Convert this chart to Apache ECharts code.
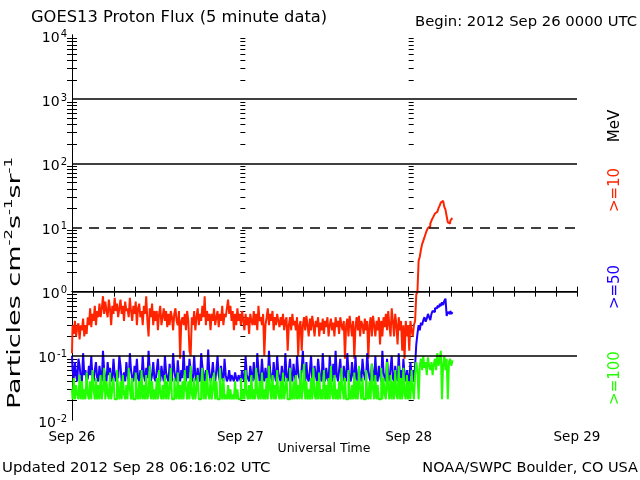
<!DOCTYPE html>
<html><head><meta charset="utf-8">
<script src="https://cdn.jsdelivr.net/npm/echarts@6/dist/echarts.min.js"></script>
<style>html,body{margin:0;padding:0;background:#fff}#c{width:640px;height:480px}</style>
</head><body><div id="c"></div>
<script>
// 10-minute samples starting 2012 Sep 26 0000 UTC (x in hours); each row = 2 hours
const stepHours = 1 / 6;
const dayLabels = ['Sep 26', 'Sep 27', 'Sep 28', 'Sep 29'];
const decadeExponents = [-2, -1, 0, 1, 2, 3, 4];

// >=10 MeV
const p10 = [
  0.11,0.3,0.22,0.35,0.2,0.28,0.32,0.18,0.3,0.25,0.38,0.2,
  0.3,0.22,0.4,0.3,0.55,0.28,0.45,0.35,0.6,0.3,0.5,0.4,
  0.65,0.4,0.55,0.85,0.45,0.7,0.5,0.4,0.75,0.55,0.3,0.6,
  0.45,0.8,0.5,0.65,0.4,0.55,0.75,0.45,0.6,0.35,0.7,0.5,
  0.55,0.4,0.8,0.5,0.35,0.6,0.45,0.7,0.3,0.55,0.65,0.4,
  0.5,0.3,0.6,0.45,0.85,0.35,0.2,0.55,0.4,0.65,0.3,0.5,
  0.35,0.5,0.25,0.45,0.6,0.3,0.4,0.55,0.35,0.5,0.28,0.45,
  0.3,0.5,0.4,0.25,0.45,0.55,0.35,0.3,0.5,0.09,0.35,0.4,
  0.3,0.45,0.25,0.5,0.35,0.12,0.1,0.4,0.3,0.5,0.25,0.4,
  0.55,0.3,0.45,0.35,0.6,0.4,0.85,0.3,0.5,0.35,0.45,0.25,
  0.45,0.35,0.55,0.3,0.4,0.5,0.28,0.45,0.35,0.6,0.3,0.45,
  0.4,0.55,0.75,0.45,0.6,0.35,0.5,0.25,0.45,0.3,0.55,0.35,
  0.45,0.3,0.5,0.35,0.25,0.45,0.3,0.4,0.22,0.45,0.35,0.3,
  0.5,0.3,0.45,0.25,0.6,0.35,0.4,0.3,0.45,0.1,0.3,0.4,
  0.55,0.3,0.45,0.35,0.5,0.25,0.4,0.3,0.45,0.35,0.28,0.4,
  0.3,0.45,0.25,0.35,0.4,0.12,0.3,0.4,0.25,0.45,0.3,0.35,
  0.25,0.4,0.1,0.3,0.35,0.12,0.3,0.4,0.25,0.42,0.3,0.2,
  0.38,0.25,0.42,0.3,0.2,0.35,0.28,0.4,0.2,0.33,0.25,0.38,
  0.22,0.35,0.28,0.4,0.2,0.3,0.38,0.25,0.33,0.2,0.4,0.28,
  0.35,0.22,0.4,0.3,0.25,0.35,0.09,0.3,0.38,0.2,0.42,0.3,
  0.2,0.35,0.09,0.28,0.4,0.25,0.42,0.2,0.35,0.3,0.22,0.38,
  0.25,0.35,0.09,0.3,0.4,0.2,0.42,0.3,0.2,0.35,0.25,0.4,
  0.15,0.35,0.2,0.4,0.28,0.45,0.25,0.5,0.3,0.2,0.55,0.35,
  0.2,0.45,0.3,0.15,0.4,0.25,0.35,0.12,0.3,0.09,0.35,0.2,
  0.3,0.12,0.35,0.25,0.2,0.3,0.35,0.9,1.0,3.0,3.5,4.5,
  5.5,6.2,7.0,8.0,9.0,9.8,10.5,11.5,12.8,14,15.2,16.5,
  17.5,18.5,20,22,24.5,26,25,21,19,15,12,11.5,
  12.5,13.5,14
];
// >=50 MeV
const p50 = [
  0.1,0.06,0.045,0.08,0.05,0.04,0.09,0.07,0.045,0.04,0.11,0.05,
  0.06,0.04,0.045,0.07,0.05,0.1,0.045,0.04,0.06,0.08,0.045,0.04,
  0.07,0.05,0.04,0.12,0.06,0.045,0.04,0.08,0.05,0.065,0.04,0.045,
  0.09,0.05,0.04,0.06,0.045,0.1,0.07,0.04,0.045,0.055,0.04,0.08,
  0.05,0.04,0.11,0.06,0.045,0.04,0.07,0.05,0.09,0.045,0.04,0.06,
  0.045,0.1,0.05,0.04,0.065,0.045,0.12,0.06,0.04,0.05,0.08,0.045,
  0.04,0.06,0.09,0.045,0.04,0.07,0.05,0.04,0.1,0.055,0.045,0.04,
  0.075,0.05,0.04,0.11,0.06,0.045,0.04,0.085,0.05,0.04,0.06,0.045,
  0.12,0.05,0.04,0.07,0.045,0.09,0.06,0.04,0.045,0.1,0.05,0.04,
  0.065,0.045,0.04,0.11,0.07,0.05,0.04,0.06,0.045,0.125,0.055,0.04,
  0.05,0.08,0.045,0.04,0.06,0.1,0.05,0.04,0.07,0.045,0.04,0.09,
  0.05,0.04,0.045,0.06,0.04,0.05,0.045,0.04,0.055,0.045,0.04,0.05,
  0.045,0.04,0.06,0.045,0.04,0.1,0.05,0.045,0.04,0.07,0.05,0.04,
  0.08,0.045,0.04,0.11,0.06,0.04,0.045,0.09,0.05,0.04,0.065,0.045,
  0.04,0.12,0.06,0.045,0.04,0.08,0.05,0.04,0.1,0.055,0.045,0.04,
  0.07,0.045,0.04,0.11,0.05,0.04,0.06,0.09,0.045,0.04,0.075,0.05,
  0.04,0.1,0.055,0.045,0.04,0.065,0.12,0.05,0.04,0.08,0.045,0.04,
  0.06,0.1,0.045,0.04,0.07,0.05,0.04,0.09,0.06,0.045,0.04,0.11,
  0.05,0.04,0.065,0.045,0.04,0.1,0.055,0.04,0.075,0.045,0.12,0.05,
  0.04,0.06,0.09,0.045,0.04,0.07,0.05,0.04,0.11,0.06,0.045,0.04,
  0.08,0.05,0.04,0.1,0.045,0.04,0.065,0.05,0.04,0.09,0.055,0.045,
  0.04,0.11,0.06,0.045,0.04,0.075,0.05,0.04,0.1,0.045,0.04,0.07,
  0.05,0.04,0.12,0.055,0.045,0.04,0.09,0.05,0.04,0.065,0.1,0.045,
  0.04,0.07,0.05,0.04,0.11,0.045,0.06,0.04,0.09,0.05,0.04,0.06,
  0.045,0.04,0.08,0.05,0.06,0.04,0.07,0.15,0.22,0.3,0.25,0.33,
  0.3,0.36,0.4,0.34,0.38,0.45,0.4,0.36,0.45,0.5,0.48,0.55,
  0.55,0.6,0.58,0.65,0.6,0.68,0.62,0.72,0.78,0.42,0.48,0.45,
  0.5,0.45,0.48
];
// >=100 MeV
const p100 = [
  0.03,0.021,0.045,0.021,0.035,0.025,0.021,0.05,0.021,0.04,0.021,0.03,
  0.021,0.055,0.025,0.021,0.04,0.021,0.06,0.03,0.021,0.045,0.021,0.035,
  0.021,0.05,0.021,0.03,0.065,0.021,0.04,0.025,0.021,0.055,0.021,0.03,
  0.045,0.021,0.021,0.06,0.03,0.021,0.04,0.021,0.05,0.025,0.021,0.035,
  0.021,0.065,0.03,0.021,0.045,0.021,0.021,0.055,0.025,0.021,0.04,0.021,
  0.06,0.021,0.035,0.021,0.05,0.021,0.025,0.07,0.021,0.04,0.021,0.03,
  0.021,0.045,0.021,0.06,0.025,0.021,0.035,0.021,0.05,0.021,0.04,0.021,
  0.03,0.065,0.021,0.021,0.045,0.025,0.021,0.055,0.021,0.035,0.021,0.04,
  0.021,0.06,0.03,0.021,0.04,0.021,0.07,0.025,0.021,0.045,0.021,0.03,
  0.05,0.021,0.021,0.035,0.065,0.021,0.04,0.021,0.06,0.025,0.021,0.045,
  0.021,0.03,0.055,0.021,0.04,0.021,0.021,0.065,0.03,0.021,0.045,0.021,
  0.025,0.021,0.035,0.021,0.03,0.021,0.025,0.021,0.04,0.021,0.03,0.021,
  0.021,0.045,0.021,0.03,0.021,0.06,0.025,0.021,0.035,0.021,0.05,0.021,
  0.03,0.021,0.065,0.025,0.021,0.04,0.021,0.055,0.021,0.03,0.021,0.045,
  0.021,0.07,0.03,0.021,0.05,0.021,0.035,0.021,0.06,0.025,0.021,0.04,
  0.021,0.055,0.021,0.03,0.045,0.021,0.021,0.065,0.025,0.021,0.04,0.021,
  0.05,0.021,0.035,0.021,0.06,0.021,0.03,0.075,0.021,0.04,0.021,0.03,
  0.021,0.045,0.021,0.065,0.025,0.021,0.04,0.021,0.055,0.021,0.03,0.021,
  0.06,0.021,0.035,0.021,0.045,0.021,0.07,0.025,0.021,0.05,0.021,0.03,
  0.021,0.04,0.021,0.065,0.03,0.021,0.045,0.021,0.021,0.06,0.025,0.021,
  0.035,0.021,0.055,0.021,0.04,0.021,0.07,0.03,0.021,0.045,0.021,0.021,
  0.06,0.025,0.021,0.04,0.021,0.075,0.03,0.021,0.05,0.021,0.035,0.021,
  0.021,0.065,0.021,0.045,0.025,0.021,0.08,0.03,0.021,0.05,0.021,0.04,
  0.021,0.06,0.025,0.021,0.07,0.021,0.045,0.021,0.065,0.025,0.021,0.05,
  0.021,0.04,0.021,0.06,0.03,0.021,0.05,0.08,0.06,0.021,0.07,0.09,
  0.06,0.1,0.065,0.08,0.05,0.095,0.07,0.06,0.08,0.05,0.075,0.09,
  0.06,0.11,0.07,0.085,0.12,0.021,0.075,0.1,0.06,0.09,0.021,0.08,
  0.09,0.07,0.085
];

const FONT = 'DejaVu Sans';
const toData = arr => arr.map((v, i) => [i * stepHours, Math.log10(v)]);
const minorVals = [];
for (let d = decadeExponents[0]; d < decadeExponents[decadeExponents.length - 1]; d++) {
  for (let k = 2; k <= 9; k++) minorVals.push(d + Math.log10(k));
}
const yMin = decadeExponents[0], yMax = decadeExponents[decadeExponents.length - 1];
const gridLeft = 72, gridRight = 63, plotW = 640 - gridLeft - gridRight;

function dayYAxis(day) {
  return {
    type: 'value', position: 'left', min: yMin, max: yMax, interval: 1,
    offset: -plotW * day / 3,
    axisLine: { show: false },
    axisTick: { show: true, inside: true, length: 5, customValues: minorVals, lineStyle: { color: '#000' } },
    axisLabel: { show: false }, splitLine: { show: false }
  };
}
const xBase = {
  type: 'value', min: 0, max: 72, interval: 3,
  axisLine: { show: true, lineStyle: { color: '#000', width: 1 } },
  axisTick: { show: true, inside: true, length: 5, lineStyle: { color: '#000' } },
  splitLine: { show: false }
};
const lineSeries = (name, arr, color) => ({
  name, type: 'line', data: toData(arr), showSymbol: false, symbol: 'none', step: 'middle',
  lineStyle: { color, width: 2 }, itemStyle: { color }, animation: false, z: 3
});

const s10 = lineSeries('>=10', p10, '#ff2400');
s10.markLine = {
  silent: true, symbol: 'none', animation: false,
  label: { show: false },
  lineStyle: { color: '#000', width: 1.5, type: 'solid' },
  data: [
    { yAxis: 3 }, { yAxis: 2 }, { yAxis: 0 }, { yAxis: -1 },
    { yAxis: 1, lineStyle: { type: [10, 7], color: '#000', width: 1.5 } }
  ]
};

const chart = echarts.init(document.getElementById('c'), null, { renderer: 'canvas' });
chart.setOption({
  animation: false,
  backgroundColor: '#fff',
  grid: { left: gridLeft, right: gridRight, top: 35, bottom: 60 },
  xAxis: [
    Object.assign({}, xBase, {
      position: 'bottom',
      axisLabel: { show: true, margin: 10, color: '#000', fontFamily: FONT, fontSize: 13.5,
        formatter: v => (Math.round(v) % 24 === 0 ? dayLabels[Math.round(v / 24)] : '') }
    }),
    Object.assign({}, xBase, { position: 'top', axisLabel: { show: false } })
  ],
  yAxis: [
    {
      type: 'value', position: 'left', min: yMin, max: yMax, interval: 1,
      axisLine: { show: true, lineStyle: { color: '#000', width: 1 } },
      axisTick: { show: true, inside: true, length: 5, customValues: minorVals, lineStyle: { color: '#000' } },
      splitLine: { show: false },
      axisLabel: {
        show: true, margin: 5, color: '#000',
        formatter: v => '{b|10}{s|' + Math.round(v) + '}',
        rich: {
          b: { fontFamily: FONT, fontSize: 14, color: '#000', padding: [6, 0, 0, 0], verticalAlign: 'top' },
          s: { fontFamily: FONT, fontSize: 10, color: '#000', padding: [4, 0, 0, 1], verticalAlign: 'top' }
        }
      }
    },
    {
      type: 'value', position: 'right', min: yMin, max: yMax, interval: 1,
      axisLine: { show: true, lineStyle: { color: '#000', width: 1 } },
      axisTick: { show: true, inside: true, length: 5, customValues: minorVals, lineStyle: { color: '#000' } },
      axisLabel: { show: false }, splitLine: { show: false }
    },
    dayYAxis(1),
    dayYAxis(2)
  ],
  series: [s10, lineSeries('>=50', p50, '#1e00ff'), lineSeries('>=100', p100, '#22ff00')],
  graphic: [
    { type: 'text', x: 31, y: 18, style: { text: 'GOES13 Proton Flux (5 minute data)', fontFamily: FONT, fontSize: 16.3, fill: '#000', textAlign: 'left', textVerticalAlign: 'middle' } },
    { type: 'text', x: 637, y: 22, style: { text: 'Begin: 2012 Sep 26 0000 UTC', fontFamily: FONT, fontSize: 14.8, fill: '#000', textAlign: 'right', textVerticalAlign: 'middle' } },
    { type: 'text', x: 324, y: 449, style: { text: 'Universal Time', fontFamily: FONT, fontSize: 12.5, fill: '#000', textAlign: 'center', textVerticalAlign: 'middle' } },
    { type: 'text', x: 2, y: 468, style: { text: 'Updated 2012 Sep 28 06:16:02 UTC', fontFamily: FONT, fontSize: 14.9, fill: '#000', textAlign: 'left', textVerticalAlign: 'middle' } },
    { type: 'text', x: 638, y: 468, style: { text: 'NOAA/SWPC Boulder, CO USA', fontFamily: FONT, fontSize: 14.5, fill: '#000', textAlign: 'right', textVerticalAlign: 'middle' } },
    { type: 'text', x: 14, y: 283, rotation: Math.PI / 2, scaleX: 1.5, style: {
        text: '{a|Particles cm}{s|-2}{a|s}{s|-1}{a|sr}{s|-1}', textAlign: 'center', textVerticalAlign: 'middle',
        rich: { a: { fontFamily: FONT, fontSize: 18, fill: '#000', padding: [3, 0, 0, 0], verticalAlign: 'top' },
                s: { fontFamily: FONT, fontSize: 11, fill: '#000', padding: [0, 0, 0, 0], verticalAlign: 'top' } } } },
    { type: 'text', x: 615, y: 126, rotation: Math.PI / 2, style: { text: 'MeV', fontFamily: FONT, fontSize: 15, fill: '#000', textAlign: 'center', textVerticalAlign: 'middle' } },
    { type: 'text', x: 615, y: 190, rotation: Math.PI / 2, style: { text: '>=10', fontFamily: FONT, fontSize: 15, fill: '#ff2400', textAlign: 'center', textVerticalAlign: 'middle' } },
    { type: 'text', x: 615, y: 287, rotation: Math.PI / 2, style: { text: '>=50', fontFamily: FONT, fontSize: 15, fill: '#1e00ff', textAlign: 'center', textVerticalAlign: 'middle' } },
    { type: 'text', x: 615, y: 378, rotation: Math.PI / 2, style: { text: '>=100', fontFamily: FONT, fontSize: 15, fill: '#22ff00', textAlign: 'center', textVerticalAlign: 'middle' } }
  ]
});
</script>
</body></html>
